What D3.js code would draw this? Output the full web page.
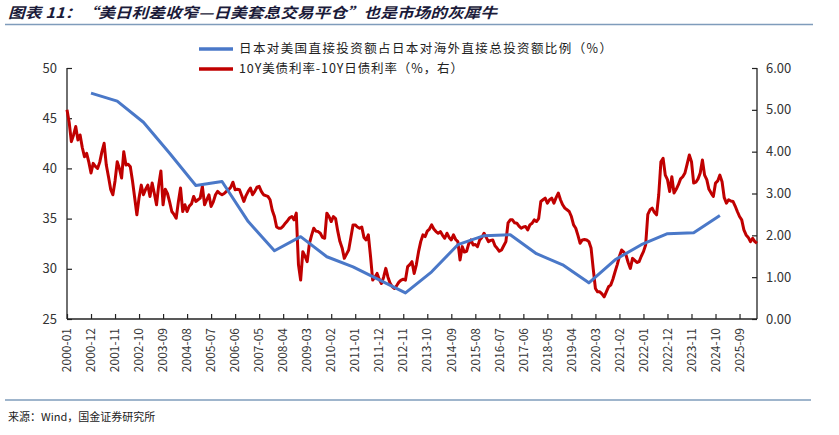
<!DOCTYPE html>
<html><head><meta charset="utf-8">
<script src="https://cdn.jsdelivr.net/npm/d3@7"></script>
<style>
html,body{margin:0;padding:0;background:#fff;}
svg{display:block;font-family:"Noto Sans CJK SC","Noto Sans",sans-serif;}
</style></head>
<body><svg id="c" width="839" height="435"></svg>
<script>
// ---------- data ----------
const titleText = "图表 11：“美日利差收窄—日美套息交易平仓”也是市场的灰犀牛";
const sourceText = "来源：Wind，国金证券研究所";
const seriesNames = ["日本对美国直接投资额占日本对海外直接总投资额比例（%）", "10Y美债利率-10Y日债利率（%，右）"];

const startMonth = "2000-01";
const endMonth = "2026-05";

// blue: annual share (%), left axis
const blueDates = ["2000-12","2001-12","2002-12","2003-12","2004-12","2005-12","2006-12","2007-12","2008-12","2009-12","2010-12","2011-12","2012-12","2013-12","2014-12","2015-12","2016-12","2017-12","2018-12","2019-12","2020-12","2021-12","2022-12","2023-12","2024-12"];
const blueValues = [47.5,46.7,44.6,41.5,38.3,38.7,34.7,31.8,33.2,31.2,30.2,28.9,27.6,29.7,32.4,33.3,33.4,31.5,30.4,28.6,30.9,32.4,33.5,33.6,35.3];

// red: monthly spread (%), right axis, 2000-01 .. 2026-05
const redValues = [
  5.00,4.70,4.24,4.40,4.60,4.28,4.40,4.10,3.88,3.96,3.75,3.49, // 2000
  3.72,3.65,3.60,3.75,4.00,4.20,3.68,3.40,3.10,2.97,3.30,3.76, // 2001
  3.60,3.37,4.00,3.68,3.70,3.64,3.30,2.90,2.49,2.90,3.20,2.97, // 2002
  3.10,3.20,2.93,3.25,3.00,2.73,3.20,3.54,2.73,3.10,3.00,2.80, // 2003
  2.57,2.50,2.41,2.80,3.13,2.57,2.73,2.57,2.70,2.75,2.93,2.81, // 2004
  2.85,2.89,3.17,2.73,2.85,2.97,2.69,2.80,2.97,3.05,3.00,2.97, // 2005
  3.00,3.05,3.09,3.15,3.27,3.09,3.10,3.09,2.95,2.81,2.95,3.05, // 2006
  3.13,2.97,3.05,3.15,3.17,3.05,2.97,2.95,2.93,2.85,2.60,2.45, // 2007
  2.20,2.17,2.17,2.22,2.29,2.35,2.42,2.45,2.37,2.53,1.30,0.93, // 2008
  1.61,1.50,1.37,1.80,2.00,2.17,2.10,2.09,2.05,1.95,1.93,2.53, // 2009
  2.45,2.33,2.45,2.40,2.10,1.85,1.70,1.45,1.55,1.65,1.95,2.25, // 2010
  2.25,2.20,2.17,2.20,1.95,1.89,2.01,1.50,0.93,1.00,1.09,0.95, // 2011
  0.85,1.00,1.21,1.00,0.85,0.77,0.73,0.80,0.88,0.93,0.95,0.93, // 2012
  1.25,1.30,1.37,1.09,1.30,1.61,1.85,2.01,1.97,2.10,2.15,2.25, // 2013
  2.15,2.09,2.05,2.09,2.00,1.93,2.05,1.95,1.89,2.01,1.90,1.85, // 2014
  1.41,1.73,1.60,1.62,1.80,1.89,1.77,1.78,1.73,1.89,1.95,2.05, // 2015
  1.95,1.85,1.88,1.89,1.75,1.69,1.62,1.65,1.75,1.85,2.30,2.37, // 2016
  2.37,2.30,2.29,2.22,2.17,2.20,2.21,2.13,2.25,2.29,2.37,2.33, // 2017
  2.40,2.81,2.85,2.89,2.77,2.85,2.89,2.77,2.90,3.01,2.85,2.73, // 2018
  2.65,2.61,2.57,2.45,2.25,2.17,2.00,1.81,1.89,1.90,1.89,1.85, // 2019
  1.70,1.20,0.73,0.65,0.65,0.60,0.53,0.65,0.77,0.81,0.95,1.13, // 2020
  1.30,1.50,1.65,1.60,1.53,1.35,1.21,1.45,1.40,1.35,1.37,1.50, // 2021
  1.61,1.77,2.50,2.61,2.65,2.55,2.49,2.97,3.76,3.84,3.44,3.33, // 2022
  3.05,3.40,3.01,3.10,3.21,3.35,3.40,3.49,3.70,3.92,3.76,3.25, // 2023
  3.27,3.35,3.49,3.80,3.44,3.33,3.10,3.01,2.93,3.25,3.30,3.44, // 2024
  3.28,2.90,2.77,2.85,2.82,2.81,2.70,2.57,2.45,2.37,2.13,2.01, // 2025
  1.95,1.85,1.93,1.85,1.81                                     // 2026
];

const xTickLabels = ["2000-01","2000-12","2001-11","2002-10","2003-09","2004-08","2005-07","2006-06","2007-05","2008-04","2009-03","2010-02","2011-01","2011-12","2012-11","2013-10","2014-09","2015-08","2016-07","2017-06","2018-05","2019-04","2020-03","2021-02","2022-01","2022-12","2023-11","2024-10","2025-09"];
const leftTicks = [25,30,35,40,45,50];
const rightTicks = [0,1,2,3,4,5,6];

// ---------- drawing ----------
const monthIndex = s => { const [y,m] = s.split("-").map(Number); return (y-2000)*12 + (m-1); };
const svg = d3.select("#c");
const L = 67, R = 757, T = 68, B = 319;

const x = d3.scaleLinear().domain([monthIndex(startMonth), monthIndex(endMonth)]).range([L, R]);
const yL = d3.scaleLinear().domain([25,50]).range([B, T]);
const yR = d3.scaleLinear().domain([0,6]).range([B, T]);

// title
svg.append("text").attr("x", 8).attr("y", 18)
  .attr("font-size", 14.5).attr("font-weight", "bold").attr("font-style", "italic")
  .attr("fill", "#1b1b3a").attr("textLength", 489).attr("lengthAdjust","spacingAndGlyphs")
  .text(titleText);
svg.append("line").attr("x1", 5).attr("x2", 813).attr("y1", 24.5).attr("y2", 24.5)
  .attr("stroke", "#7f9cbb").attr("stroke-width", 1.5);

// footer
svg.append("line").attr("x1", 5).attr("x2", 811).attr("y1", 400).attr("y2", 400)
  .attr("stroke", "#7f9cbb").attr("stroke-width", 1.5);
svg.append("text").attr("x", 8).attr("y", 421).attr("font-size", 11).attr("fill", "#222")
  .text(sourceText);

// axes
const axisColor = "#222";
const gL = svg.append("g").attr("transform", `translate(${L},0)`)
  .call(d3.axisRight(yL).tickValues(leftTicks).tickSize(5).tickFormat(""));
const gR = svg.append("g").attr("transform", `translate(${R},0)`)
  .call(d3.axisLeft(yR).tickValues(rightTicks).tickSize(5).tickFormat(""));
const gB = svg.append("g").attr("transform", `translate(0,${B})`)
  .call(d3.axisTop(x).tickValues(xTickLabels.map(monthIndex)).tickSize(5).tickFormat(""));
[gL,gR,gB].forEach(g => { g.selectAll("path,line").attr("stroke", axisColor).attr("stroke-width", 1.2); g.select(".domain").attr("d", null); });
svg.append("line").attr("x1", L).attr("x2", L).attr("y1", T).attr("y2", B).attr("stroke", axisColor).attr("stroke-width", 1.3);
svg.append("line").attr("x1", R).attr("x2", R).attr("y1", T).attr("y2", B).attr("stroke", axisColor).attr("stroke-width", 1.3);
svg.append("line").attr("x1", L).attr("x2", R).attr("y1", B).attr("y2", B).attr("stroke", axisColor).attr("stroke-width", 1.3);

// tick labels
const lblColor = "#333";
svg.append("g").selectAll("text").data(leftTicks).join("text")
  .attr("x", 57).attr("y", d => yL(d)).attr("dy", "0.35em").attr("text-anchor", "end")
  .attr("font-size", 13).attr("fill", lblColor).text(d => d);
svg.append("g").selectAll("text").data(rightTicks).join("text")
  .attr("x", 766).attr("y", d => yR(d)).attr("dy", "0.35em").attr("text-anchor", "start")
  .attr("font-size", 13).attr("fill", lblColor).text(d => d3.format(".2f")(d));
svg.append("g").selectAll("text").data(xTickLabels).join("text")
  .attr("transform", d => `translate(${x(monthIndex(d))},${B + 9}) rotate(-90)`)
  .attr("dy", "0.35em").attr("text-anchor", "end")
  .attr("font-size", 12).attr("fill", lblColor).text(d => d);

// lines
const redLine = d3.line().x((d,i) => x(i)).y(d => yR(d));
svg.append("path").datum(redValues).attr("d", redLine)
  .attr("fill", "none").attr("stroke", "#c00000").attr("stroke-width", 3).attr("stroke-linejoin", "round");
const blueLine = d3.line().x(d => x(monthIndex(d[0]))).y(d => yL(d[1]));
svg.append("path").datum(blueDates.map((d,i) => [d, blueValues[i]])).attr("d", blueLine)
  .attr("fill", "none").attr("stroke", "#4a78c8").attr("stroke-width", 3).attr("stroke-linejoin", "round");

// legend
const legend = [
  {name: seriesNames[0], color: "#4a78c8", y: 49, len: 373},
  {name: seriesNames[1], color: "#c00000", y: 69, len: 224}
];
legend.forEach(l => {
  svg.append("line").attr("x1", 199).attr("x2", 233).attr("y1", l.y).attr("y2", l.y)
    .attr("stroke", l.color).attr("stroke-width", 3.5);
  svg.append("text").attr("x", 239).attr("y", l.y).attr("dy", "0.35em")
    .attr("font-size", 12.5).attr("fill", "#222")
    .attr("textLength", l.len).attr("lengthAdjust", "spacing").text(l.name);
});
</script></body></html>
